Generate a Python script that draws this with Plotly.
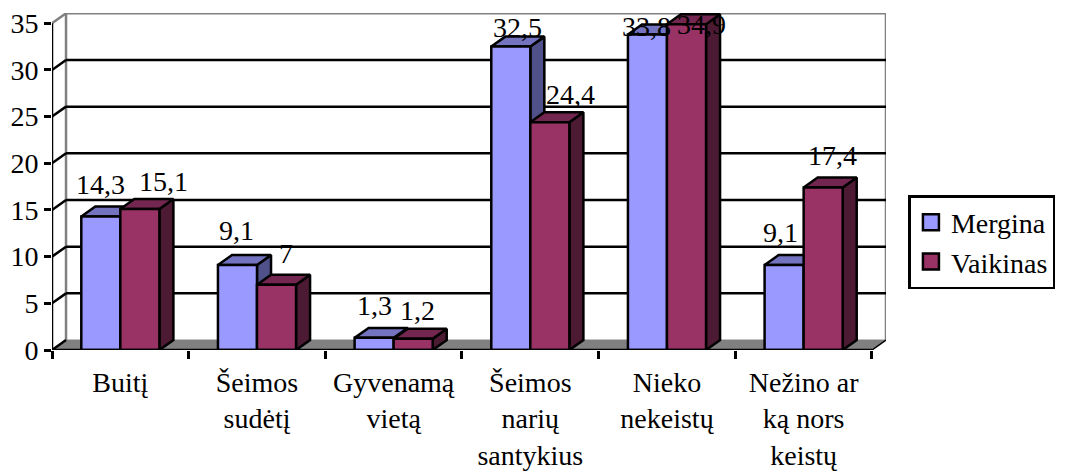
"""Clustered pseudo-3D bar chart: what respondents would change, by gender."""

import plotly.graph_objects as go

categories = [
    "Buitį",
    "Šeimos<br>sudėtį",
    "Gyvenamą<br>vietą",
    "Šeimos<br>narių<br>santykius",
    "Nieko<br>nekeistų",
    "Nežino ar<br>ką nors<br>keistų",
]
mergina = [14.3, 9.1, 1.3, 32.5, 33.8, 9.1]
vaikinas = [15.1, 7, 1.2, 24.4, 34.9, 17.4]
mergina_labels = ["14,3", "9,1", "1,3", "32,5", "33,8", "9,1"]
vaikinas_labels = ["15,1", "7", "1,2", "24,4", "34,9", "17,4"]
y_ticks = [0, 5, 10, 15, 20, 25, 30, 35]

# hand-placed data labels, as in the original chart (category units, value units)
mergina_shift = [0.0, -0.01, 0.0, 0.05, -0.01, -0.03]
mergina_lift = [3.4, 3.7, 3.5, 2.0, 0.9, 3.5]
vaikinas_shift = [0.17, 0.07, 0.03, 0.15, 0.11, 0.07]
vaikinas_lift = [2.9, 3.35, 3.0, 3.0, 0.0, 3.4]

# depth of the fake 3D box, in axis units
DX = 0.1026
DY = 1.067
BAR_W = 0.2857
X_RANGE = [-0.5, 5.5 + DX]
Y_RANGE = [0, 35 + DY + 0.03]

FONT = "Liberation Serif"
FONT_SIZE = 28
WALL = "#808080"
EDGE = 2.5


def depth_faces(values, left):
    """Polygons for the top and the side of each bar, split by None."""
    top_x, top_y, side_x, side_y = [], [], [], []
    for i, v in enumerate(values):
        x0 = i + left
        x1 = x0 + BAR_W
        top_x += [x0, x1, x1 + DX, x0 + DX, x0, None]
        top_y += [v, v, v + DY, v + DY, v, None]
        side_x += [x1, x1 + DX, x1 + DX, x1, x1, None]
        side_y += [0, DY, v + DY, v, 0, None]
    return top_x, top_y, side_x, side_y


fig = go.Figure()

series = [
    ("Mergina", mergina, -BAR_W, "#9999FF", "#7373BF", "#50508A"),
    ("Vaikinas", vaikinas, 0, "#993366", "#732650", "#4D1A33"),
]
for name, values, left, front, top, side in series:
    top_x, top_y, side_x, side_y = depth_faces(values, left)
    for xs, ys, color in [(side_x, side_y, side), (top_x, top_y, top)]:
        fig.add_trace(
            go.Scatter(
                x=xs,
                y=ys,
                mode="lines",
                fill="toself",
                fillcolor=color,
                line={"color": "black", "width": EDGE},
                showlegend=False,
                hoverinfo="skip",
            )
        )

# Front faces sit on an overlaid category axis so they cover the depth faces
for name, values, left, front, top, side in series:
    fig.add_trace(
        go.Bar(
            x=categories,
            y=values,
            name=name,
            marker={"color": front, "line": {"color": "black", "width": EDGE}},
            xaxis="x2",
            yaxis="y2",
            showlegend=False,
        )
    )
    # Bar swatches in the legend are too small, a square marker gets closer
    fig.add_trace(
        go.Scatter(
            x=[None],
            y=[None],
            name=name,
            mode="markers",
            marker={
                "symbol": "square",
                "size": 16,
                "color": front,
                "line": {"color": "black", "width": 2.5},
            },
        )
    )

# Floor, back wall and gridlines
shapes = [
    {
        "type": "path",
        "path": f"M -0.5 0 L 5.5 0 L {5.5 + DX} {DY} L {-0.5 + DX} {DY} Z",
        "fillcolor": WALL,
        "line": {"color": WALL, "width": 1},
        "layer": "below",
    },
    {
        "type": "path",
        "path": f"M {-0.5 + DX} {DY} L {-0.5 + DX} {35 + DY} L {5.5 + DX} {35 + DY} L {5.5 + DX} {DY}",
        "line": {"color": WALL, "width": 2.5},
        "layer": "below",
    },
    {
        "type": "line",
        "x0": -0.5,
        "x1": -0.5 + DX,
        "y0": 35,
        "y1": 35 + DY,
        "line": {"color": WALL, "width": 2.5},
        "layer": "below",
    },
    {
        "type": "line",
        "x0": -0.5,
        "x1": -0.5,
        "y0": 0,
        "y1": 35,
        "line": {"color": "black", "width": EDGE},
        "layer": "below",
    },
    {
        "type": "line",
        "x0": -0.5,
        "x1": 5.5,
        "y0": 0,
        "y1": 0,
        "line": {"color": "black", "width": EDGE},
    },
    {
        "type": "line",
        "x0": 5.5,
        "x1": 5.5 + DX,
        "y0": 0,
        "y1": DY,
        "line": {"color": "black", "width": 1.5},
        "layer": "below",
    },
]
for v in y_ticks[:-1]:
    if v > 0:
        shapes.append(
            {
                "type": "line",
                "x0": -0.5 + DX,
                "x1": 5.5 + DX,
                "y0": v + DY,
                "y1": v + DY,
                "line": {"color": "black", "width": EDGE},
                "layer": "below",
            }
        )
    shapes.append(
        {
            "type": "line",
            "x0": -0.5,
            "x1": -0.5 + DX,
            "y0": v,
            "y1": v + DY,
            "line": {"color": "black", "width": EDGE},
            "layer": "below",
        }
    )

# Data labels
for values, labels, shifts, lifts, left in [
    (mergina, mergina_labels, mergina_shift, mergina_lift, -BAR_W),
    (vaikinas, vaikinas_labels, vaikinas_shift, vaikinas_lift, 0),
]:
    for i, v in enumerate(values):
        fig.add_annotation(
            x=i + left + BAR_W / 2 + shifts[i],
            y=v + lifts[i],
            xref="x",
            yref="y",
            text=labels[i],
            showarrow=False,
            yanchor="middle",
            font={"family": FONT, "size": FONT_SIZE, "color": "black"},
        )

fig.update_layout(
    width=1067,
    height=473,
    margin={"l": 52, "r": 178.5, "t": 13, "b": 123, "pad": 0},
    paper_bgcolor="white",
    plot_bgcolor="white",
    barmode="group",
    bargap=1 - 2 * BAR_W,
    bargroupgap=0,
    font={"family": FONT, "size": FONT_SIZE, "color": "black"},
    shapes=shapes,
    xaxis={
        "range": X_RANGE,
        "showgrid": False,
        "zeroline": False,
        "showticklabels": False,
        "automargin": False,
    },
    yaxis={
        "range": Y_RANGE,
        "tickvals": y_ticks,
        "showgrid": False,
        "zeroline": False,
        "ticks": "outside",
        "ticklen": 7,
        "tickwidth": 2.5,
        "tickcolor": "black",
        "automargin": False,
    },
    xaxis2={
        "type": "category",
        "categoryorder": "array",
        "categoryarray": categories,
        "overlaying": "x",
        "anchor": "y2",
        "range": X_RANGE,
        "tickson": "boundaries",
        "ticks": "outside",
        "ticklen": 8,
        "tickwidth": 2.5,
        "tickcolor": "black",
        "showgrid": False,
        "zeroline": False,
        "tickangle": 0,
        "ticklabelstandoff": 13,
        "automargin": False,
    },
    yaxis2={
        "range": Y_RANGE,
        "overlaying": "y",
        "showticklabels": False,
        "showgrid": False,
        "zeroline": False,
        "automargin": False,
    },
    legend={
        "x": (911 - 52) / 836.5,
        "y": (350 - 195) / 337,
        "xanchor": "left",
        "yanchor": "top",
        "bgcolor": "white",
        "bordercolor": "black",
        "borderwidth": 2.5,
        "font": {"family": FONT, "size": FONT_SIZE},
    },
)

fig.write_html(
    "out.html",
    config={"displayModeBar": False},
    post_script="document.body.style.margin = '0';",
)
